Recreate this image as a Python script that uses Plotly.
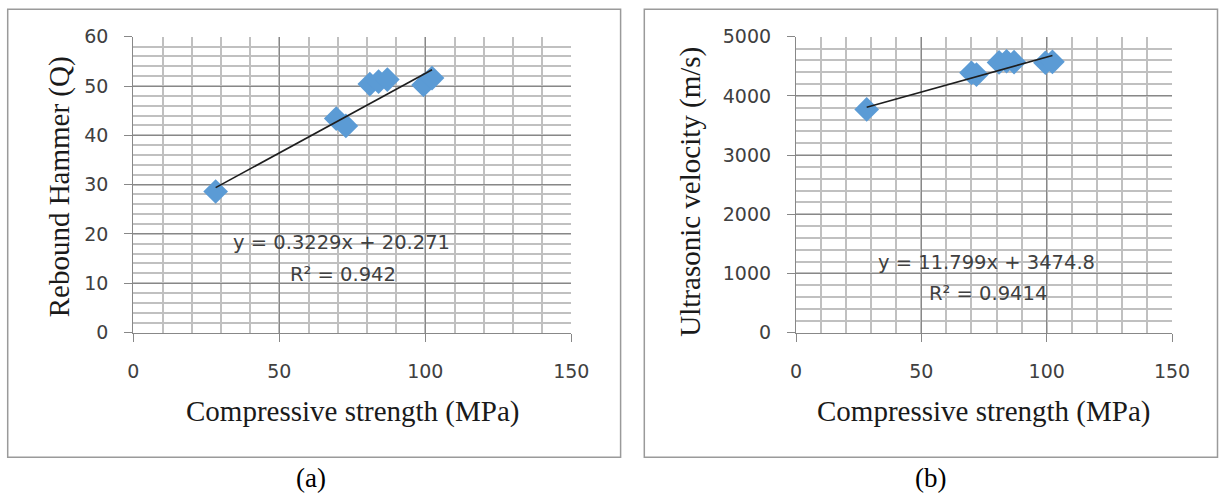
import plotly.graph_objects as go

# ---------------- data ----------------
strength = [28.2, 69.5, 72.8, 81.0, 84.0, 87.0, 99.4, 102.3]
rebound_q = [28.6, 43.4, 41.9, 50.4, 50.9, 51.3, 50.2, 51.6]
strength_b = [28.2, 70.0, 72.0, 81.0, 84.0, 87.0, 99.5, 102.3]
upv = [3770, 4390, 4360, 4565, 4585, 4570, 4560, 4575]

slope_a, icpt_a = 0.3229, 20.271
slope_b, icpt_b = 11.799, 3474.8
eq_a = ["y = 0.3229x + 20.271", "R² = 0.942"]
eq_b = ["y = 11.799x + 3474.8", "R² = 0.9414"]

x_ticks = [0, 50, 100, 150]
ya_ticks = [0, 10, 20, 30, 40, 50, 60]
yb_ticks = [0, 1000, 2000, 3000, 4000, 5000]

x_title = "Compressive strength (MPa)"
ya_title = "Rebound Hammer (Q)"
yb_title = "Ultrasonic velocity (m/s)"

W, H = 1220, 495


def px(x):
    return x / W


def py(y):
    return (H - y) / H


MARK = "#5b9bd5"
MAJ = "#888888"
MIN = "#c0c0c0"
TXT = "#404040"
TICKFONT = dict(family="DejaVu Sans", size=19, color=TXT)
SERIF = "Liberation Serif"

fig = go.Figure()

# series a
fig.add_trace(go.Scatter(x=strength, y=rebound_q, mode="markers", xaxis="x", yaxis="y",
                         marker=dict(symbol="diamond", size=19, color=MARK, line=dict(width=0)),
                         showlegend=False))
xa = [min(strength), max(strength)]
fig.add_trace(go.Scatter(x=xa, y=[slope_a * v + icpt_a for v in xa], mode="lines", xaxis="x", yaxis="y",
                         line=dict(color="#1e1e1e", width=1.6), showlegend=False))
# series b
fig.add_trace(go.Scatter(x=strength_b, y=upv, mode="markers", xaxis="x2", yaxis="y2",
                         marker=dict(symbol="diamond", size=19, color=MARK, line=dict(width=0)),
                         showlegend=False))
xb = [min(strength_b), max(strength_b)]
fig.add_trace(go.Scatter(x=xb, y=[slope_b * v + icpt_b for v in xb], mode="lines", xaxis="x2", yaxis="y2",
                         line=dict(color="#1e1e1e", width=1.6), showlegend=False))


def xaxis(dom, anchor):
    return dict(domain=dom, anchor=anchor, range=[0, 150], tickvals=x_ticks,
                ticktext=[str(v) for v in x_ticks], automargin=False,
                showgrid=True, gridcolor=MAJ, gridwidth=1.2,
                minor=dict(dtick=10, tick0=0, showgrid=True, gridcolor=MIN, gridwidth=1.5),
                showline=True, linecolor=MAJ, linewidth=1.2, zeroline=False,
                ticks="outside", ticklen=8, tickcolor=MAJ, tickwidth=1.2,
                tickfont=TICKFONT, ticklabelstandoff=14, fixedrange=True)


def yaxis(dom, anchor, rng, ticks, minor):
    return dict(domain=dom, anchor=anchor, range=rng, tickvals=ticks,
                ticktext=[str(v) for v in ticks], automargin=False,
                showgrid=True, gridcolor=MAJ, gridwidth=1.2,
                minor=dict(dtick=minor, tick0=0, showgrid=True, gridcolor=MIN, gridwidth=1.5),
                showline=True, linecolor=MAJ, linewidth=1.2, zeroline=False,
                ticks="outside", ticklen=8, tickcolor=MAJ, tickwidth=1.2,
                tickfont=TICKFONT, ticklabelstandoff=12, fixedrange=True)


ydom = [py(332.5), py(36.7)]
fig.update_layout(
    width=W, height=H, margin=dict(l=0, r=0, t=0, b=0, autoexpand=False),
    paper_bgcolor="white", plot_bgcolor="white",
    xaxis=xaxis([px(133.3), px(571.3)], "y"),
    yaxis=yaxis(ydom, "x", [0, 60], ya_ticks, 2),
    xaxis2=xaxis([px(796), px(1172)], "y2"),
    yaxis2=yaxis(ydom, "x2", [0, 5000], yb_ticks, 200),
)

shapes = []
for x0, x1 in [(7.7, 620.6), (644.3, 1217.5)]:
    shapes.append(dict(type="rect", xref="paper", yref="paper", x0=px(x0), x1=px(x1),
                       y0=py(457.3), y1=py(9.3), line=dict(color="#9a9a9a", width=1.5)))
fig.update_layout(shapes=shapes)

ann = []


def add_text(text, x, y, size, family, color, angle=0):
    ann.append(dict(text=text, x=px(x), y=py(y), xref="paper", yref="paper",
                    xanchor="center", yanchor="middle", showarrow=False, textangle=angle,
                    font=dict(family=family, size=size, color=color)))


add_text(x_title, 352, 411.5, 29, SERIF, "#1a1a1a")
add_text(x_title, 983, 411.5, 29, SERIF, "#1a1a1a")
add_text(ya_title, 59.3, 187, 29, SERIF, "#1a1a1a", -90)
add_text(yb_title, 691, 191.7, 29, SERIF, "#1a1a1a", -90)
add_text("(a)", 311, 478, 27, SERIF, "#000000")
add_text("(b)", 930.5, 478, 27, SERIF, "#000000")
add_text(eq_a[0], 341.3, 242.5, 19.5, "DejaVu Sans", TXT)
add_text(eq_a[1], 343.3, 274, 19.5, "DejaVu Sans", TXT)
add_text(eq_b[0], 986.7, 262, 19.5, "DejaVu Sans", TXT)
add_text(eq_b[1], 987.5, 293, 19.5, "DejaVu Sans", TXT)
fig.update_layout(annotations=ann)

fig.write_html("out.html", config={"displayModeBar": False},
               post_script="document.body.style.margin='0';document.body.style.overflow='hidden';")
